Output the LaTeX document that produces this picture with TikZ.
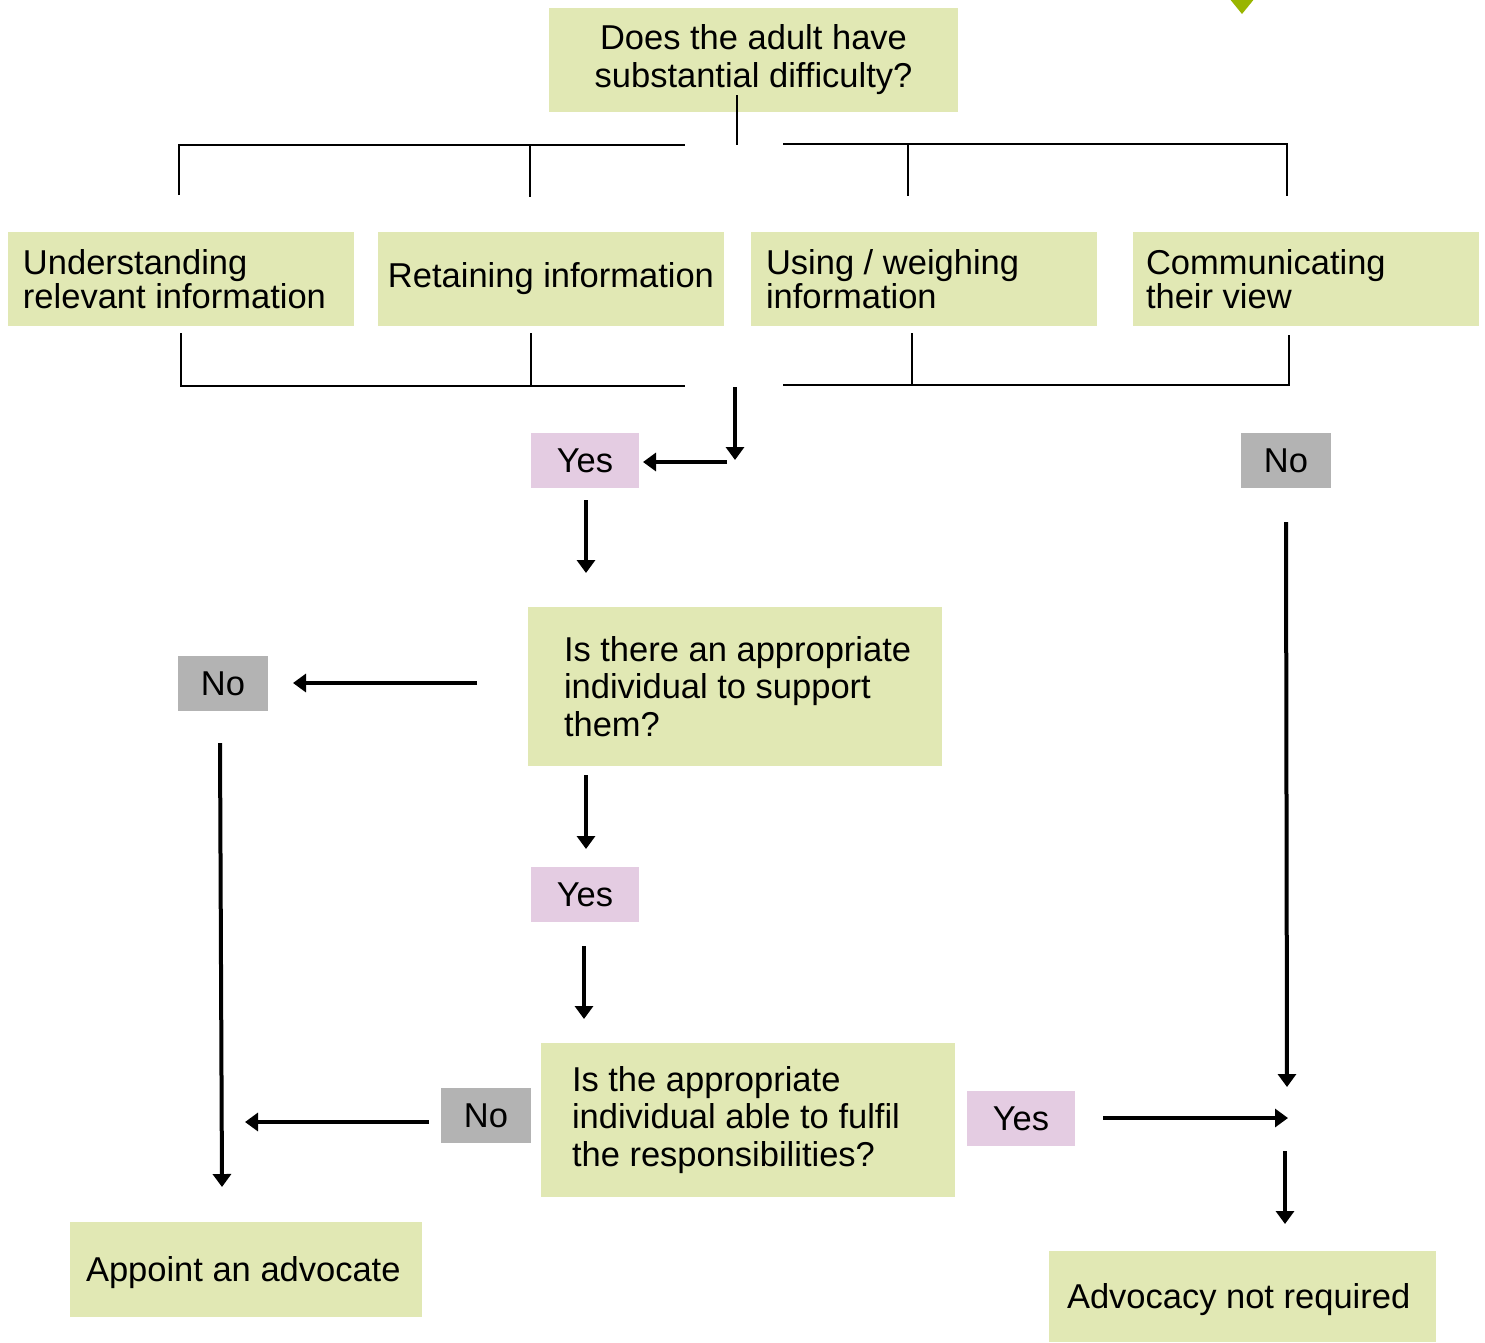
\documentclass[tikz,border=0pt]{standalone}
\usepackage{fontspec}
\setmainfont{Liberation Sans}
\usetikzlibrary{arrows.meta}
\definecolor{boxgreen}{RGB}{225,232,180}
\definecolor{yespink}{RGB}{228,204,226}
\definecolor{nogray}{RGB}{179,179,179}
\definecolor{tipgreen}{RGB}{153,181,0}
\tikzset{every picture/.style={line width=2pt}}
\begin{document}
\begin{tikzpicture}[x=1pt,y=1pt,yscale=-1,
  gbox/.style={fill=boxgreen,inner sep=0pt,anchor=north west},
  yesbox/.style={fill=yespink,inner sep=0pt,anchor=north west,minimum width=108pt,minimum height=55pt,font=\fontsize{34.5}{37}\selectfont},
  nobox/.style={fill=nogray,inner sep=0pt,anchor=north west,minimum width=90pt,minimum height=55pt,font=\fontsize{34.5}{37}\selectfont},
  rowtext/.style={inner sep=0pt,align=left,anchor=west,font=\fontsize{34.5}{34}\selectfont},
  qtext/.style={inner sep=0pt,align=left,anchor=west,font=\fontsize{34.5}{37.5}\selectfont},
  bracket/.style={line width=2pt},
  arr/.style={line width=4pt,-{Triangle[length=13pt,width=18pt]}}]
\useasboundingbox (0,0) rectangle (1485,1342);

%Shape: Triangle
\fill [tipgreen] (1229,-2) -- (1255,-2) -- (1242,14) -- cycle;

%Shape: Rectangle (question at top)
\node [gbox,minimum width=409pt,minimum height=104pt,align=center,font=\fontsize{34.5}{38}\selectfont] (top) at (548,7) {Does the adult have\\substantial difficulty?\vphantom{Ij}};

%Shape: Rectangle (four abilities)
\node [gbox,minimum width=346pt,minimum height=94pt] (und) at (7,231) {};
\node [rowtext] (undt) at ([xshift=15pt]und.west) {Understanding\\relevant information};
\node [gbox,minimum width=346pt,minimum height=94pt,font=\fontsize{34.5}{34}\selectfont] (ret) at (377,231) {Retaining information};
\node [gbox,minimum width=346pt,minimum height=94pt] (use) at (750,231) {};
\node [rowtext] (uset) at ([xshift=15pt]use.west) {Using / weighing\\information};
\node [gbox,minimum width=346pt,minimum height=94pt] (com) at (1132,231) {};
\node [rowtext] (comt) at ([xshift=13pt]com.west) {Communicating\\their view};

% Text Node
\node [yesbox] (yes1) at (530,432) {Yes};
\node [nobox] (no1) at (1240,432) {No};

%Shape: Rectangle (first question)
\node [gbox,minimum width=414pt,minimum height=159pt] (q1) at (527,606) {};
\node [qtext] (q1t) at ([xshift=36pt]q1.west) {Is there an appropriate\\individual to support\\them?};
\node [nobox] (no2) at (177,655) {No};
\node [yesbox] (yes2) at (530,866) {Yes};

%Shape: Rectangle (second question)
\node [gbox,minimum width=414pt,minimum height=154pt] (q2) at (540,1042) {};
\node [qtext] (q2t) at ([xshift=31pt]q2.west) {Is the appropriate\\individual able to fulfil\\the responsibilities?};
\node [nobox] (no3) at (440,1087) {No};
\node [yesbox] (yes3) at (966,1090) {Yes};

%Shape: Rectangle (outcomes)
\node [gbox,minimum width=352pt,minimum height=95pt] (adv) at (69,1221) {};
\node [rowtext] (advt) at ([xshift=16pt,yshift=3pt]adv.west) {Appoint an advocate};
\node [gbox,minimum width=387pt,minimum height=91pt] (nreq) at (1048,1250) {};
\node [rowtext] (nreqt) at ([xshift=18pt,yshift=3pt]nreq.west) {Advocacy not required};

% free ends of the connectors
\coordinate (stemA) at (737,95);   \coordinate (stemB) at (737,145);
\coordinate (tl1) at (179,195);    \coordinate (tl2) at (685,145);
\coordinate (tl3) at (530,145);    \coordinate (tl4) at (530,197);
\coordinate (tr1) at (783,144);    \coordinate (tr2) at (1287,196);
\coordinate (tr3) at (908,144);    \coordinate (tr4) at (908,196);
\coordinate (bl1) at (181,333);    \coordinate (bl2) at (685,386);
\coordinate (bl3) at (531,333);    \coordinate (bl4) at (531,386);
\coordinate (br1) at (783,385);    \coordinate (br2) at (1289,335);
\coordinate (br3) at (912,333);    \coordinate (br4) at (912,385);
\coordinate (a1) at (735,387);     \coordinate (a2) at (735,460);
\coordinate (b1) at (727,462);     \coordinate (b2) at (643,462);
\coordinate (c1) at (586,500);     \coordinate (c2) at (586,573);
\coordinate (d1) at (477,683);     \coordinate (d2) at (293,683);
\coordinate (e1) at (220,743);     \coordinate (e2) at (222,1187);
\coordinate (f1) at (586,775);     \coordinate (f2) at (586,849);
\coordinate (g1) at (584,946);     \coordinate (g2) at (584,1019);
\coordinate (h1) at (429,1122);    \coordinate (h2) at (245,1122);
\coordinate (k1) at (1103,1118);   \coordinate (k2) at (1288,1118);
\coordinate (m1) at (1286,522);    \coordinate (m2) at (1287,1087);
\coordinate (n1) at (1285,1151);   \coordinate (n2) at (1285,1224);

%Straight Lines (brackets)
\draw [bracket] (stemA) -- (stemB);
\draw [bracket] (tl1) |- (tl2);
\draw [bracket] (tl3) -- (tl4);
\draw [bracket] (tr1) -| (tr2);
\draw [bracket] (tr3) -- (tr4);
\draw [bracket] (bl1) |- (bl2);
\draw [bracket] (bl3) -- (bl4);
\draw [bracket] (br1) -| (br2);
\draw [bracket] (br3) -- (br4);

%Straight Lines (arrows)
\draw [arr] (a1) -- (a2);
\draw [arr] (b1) -- (b2);
\draw [arr] (c1) -- (c2);
\draw [arr] (d1) -- (d2);
\draw [arr] (e1) -- (e2);
\draw [arr] (f1) -- (f2);
\draw [arr] (g1) -- (g2);
\draw [arr] (h1) -- (h2);
\draw [arr] (k1) -- (k2);
\draw [arr] (m1) -- (m2);
\draw [arr] (n1) -- (n2);
\end{tikzpicture}
\end{document}
